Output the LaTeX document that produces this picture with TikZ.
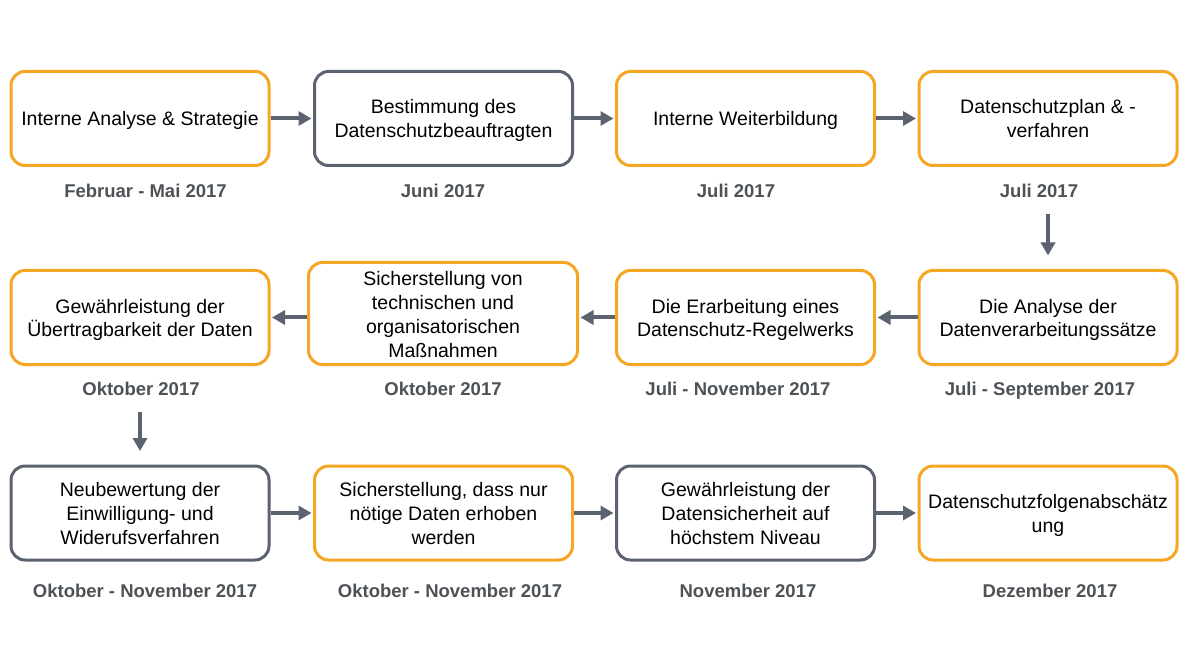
\documentclass[tikz,border=0pt]{standalone}
\usepackage{fontspec}
\setmainfont{Liberation Sans}
\usetikzlibrary{arrows.meta}

\definecolor{boxorange}{HTML}{F5A623}
\definecolor{boxgray}{HTML}{5B6370}
\definecolor{datetext}{HTML}{4D5257}

\tikzset{
	phase/.style={draw, fill=white, rounded corners=14pt, line width=3pt,
			minimum width=258pt, minimum height=94pt, align=center, inner sep=2pt,
			text height=20pt, text depth=5pt, font=\fontsize{19.5}{24}\selectfont},
	twolines/.style={text height=44pt},
	threelines/.style={text height=68pt},
	fourlines/.style={text height=92pt},
	orangebox/.style={phase, draw=boxorange},
	graybox/.style={phase, draw=boxgray},
	datum/.style={inner sep=0pt, text height=13.3pt, text depth=0pt, text=datetext,
			font=\fontsize{18.5}{22}\selectfont\bfseries},
	flow/.style={->, draw=boxgray, line width=4pt, shorten >=1.5pt}
}

\begin{document}
\begin{tikzpicture}[>={Triangle[length=13pt, width=14pt]}, x=1pt, y=1pt]

		\useasboundingbox (0,0) rectangle (1187,-663);

		% erste Reihe
		\node[orangebox] (b1) at (140,-118.5) {Interne Analyse \& Strategie};
		\node[graybox, twolines] (b2) at (443.5,-118.5) {Bestimmung des\\Datenschutzbeauftragten};
		\node[orangebox] (b3) at (745.5,-118.5) {Interne Weiterbildung};
		\node[orangebox, twolines] (b4) at (1048,-118.5) {Datenschutzplan \& -\\verfahren};

		% zweite Reihe
		\node[orangebox, twolines] (b5) at (1048,-317.5) {Die Analyse der\\Datenverarbeitungssätze};
		\node[orangebox, twolines] (b6) at (745.5,-317.5) {Die Erarbeitung eines\\Datenschutz-Regelwerks};
		\node[orangebox, fourlines, minimum width=269pt, minimum height=102pt] (b7) at (443,-313.5)
			{Sicherstellung von\\technischen und\\organisatorischen\\Maßnahmen};
		\node[orangebox, twolines] (b8) at (140,-317.5) {Gewährleistung der\\Übertragbarkeit der Daten};

		% dritte Reihe
		\node[graybox, threelines] (b9) at (140,-513) {Neubewertung der\\Einwilligung- und\\Widerufsverfahren};
		\node[orangebox, threelines] (b10) at (443.5,-513) {Sicherstellung, dass nur\\nötige Daten erhoben\\werden};
		\node[graybox, threelines] (b11) at (745.5,-513) {Gewährleistung der\\Datensicherheit auf\\höchstem Niveau};
		\node[orangebox, twolines] (b12) at (1048,-513) {Datenschutzfolgenabschätz\\ung};

		% Zeitangaben
		\foreach[count=\i] \x/\y/\t in {
				145.5/191/{Februar - Mai 2017},
				443/191/{Juni 2017},
				736/191/{Juli 2017},
				1039/191/{Juli 2017},
				1040/389/{Juli - September 2017},
				738/389/{Juli - November 2017},
				443/389/{Oktober 2017},
				141/389/{Oktober 2017},
				145/591/{Oktober - November 2017},
				450/591/{Oktober - November 2017},
				748/591/{November 2017},
				1050/591/{Dezember 2017}
			} {
				\node[datum] (d\i) at (\x,-\y) {\t};
			}

		% Pfeile
		\draw[flow] (b1) -- (b2);
		\draw[flow] (b2) -- (b3);
		\draw[flow] (b3) -- (b4);
		\draw[flow, shorten <=16pt, shorten >=13.5pt] (b5.north |- d4.south) -- (b5.north);
		\draw[flow] (b5) -- (b6);
		\draw[flow] (b6.west) -- (b6.west -| b7.east);
		\draw[flow] (b7.west |- b8.east) -- (b8.east);
		\draw[flow, shorten <=16pt, shorten >=13.5pt] (b9.north |- d8.south) -- (b9.north);
		\draw[flow] (b9) -- (b10);
		\draw[flow] (b10) -- (b11);
		\draw[flow] (b11) -- (b12);
	\end{tikzpicture}
\end{document}
